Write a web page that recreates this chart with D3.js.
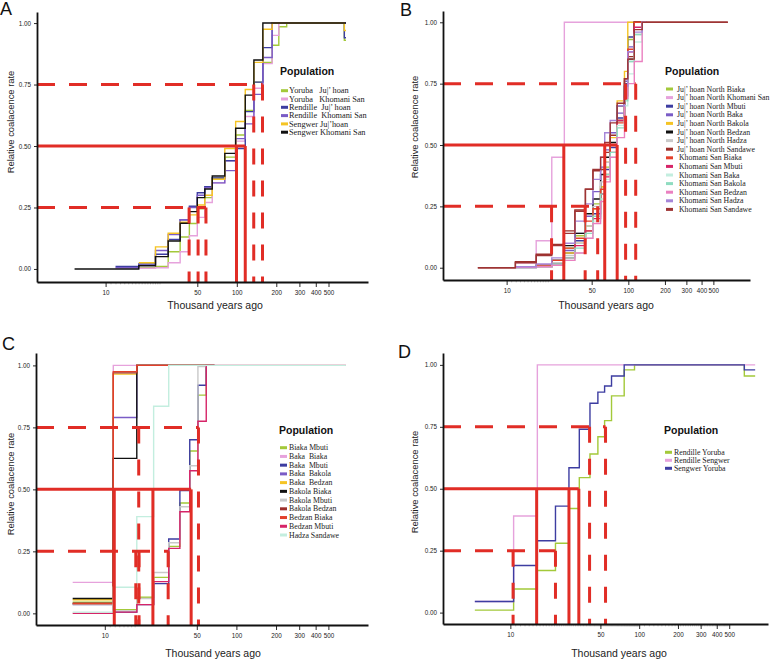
<!DOCTYPE html>
<html>
<head>
<meta charset="utf-8">
<script src="https://cdn.jsdelivr.net/npm/d3@7"></script>
<style>
body { margin: 0; background: #fff; }
text { font-family: "Liberation Sans", Arial, sans-serif; }
.leg text.entry { font-family: "Liberation Serif", "Times New Roman", serif; white-space: pre; }
</style>
</head>
<body>
<div id="viz"></div>
<script>
(function() {

    var width = 777;
    var height = 660;

    //tick values shared by all four panels
    var xTicks = [10, 50, 100, 200, 300, 400, 500];
    var yTicks = [0, 0.25, 0.5, 0.75, 1];
    var colours = ["#a3c93a", "#e6a2dc", "#3d3da1", "#7a5cc6", "#f5c424", "#111111", "#c9c9c9", "#9c2f2a",
                   "#e3402b", "#d62468", "#c3eedf", "#8fdcc0", "#ea80c0", "#a585d8", "#9e3434"];
    var red = "#e12d26";

    //Panel A
    var timesA = [5.8, 11.9, 17.9, 24, 30, 37, 43.5, 50, 57, 65, 81, 98, 116, 135, 158, 186, 209, 240, 660, 680];
    var namesA = ["Yoruba   Ju|’ hoan", "Yoruba   Khomani San", "Rendille  Ju|’ hoan", "Rendille  Khomani San",
                  "Sengwer Ju|’hoan", "Sengwer Khomani San"];
    var ratesA = [
        [null, null, 0.005, 0.01, 0.07, 0.13, 0.185, 0.245, 0.29, 0.37, 0.455, 0.545, 0.645, 0.76, 0.84, 0.91, 0.985, 1, 0.93, 0.93],
        [null, null, 0.003, 0.005, 0.025, 0.07, 0.135, 0.21, 0.27, 0.35, 0.44, 0.52, 0.62, 0.735, 0.835, 0.95, 1, 1, 1, 1],
        [null, 0.01, 0.02, 0.06, 0.12, 0.2, 0.255, 0.31, 0.335, 0.37, 0.44, 0.49, 0.64, 0.76, 0.9, 1, 1, 1, 0.94, 0.94],
        [null, 0.005, 0.015, 0.075, 0.14, 0.2, 0.25, 0.3, 0.33, 0.35, 0.4, 0.53, 0.59, 0.71, 0.86, 1, 1, 1, 1, 1],
        [null, null, 0.025, 0.09, 0.145, 0.19, 0.22, 0.26, 0.3, 0.365, 0.49, 0.6, 0.73, 0.84, 0.975, 1, 1, 1, 0.97, 0.97],
        [0, 0, 0.013, 0.05, 0.114, 0.186, 0.233, 0.29, 0.325, 0.378, 0.47, 0.572, 0.707, 0.85, 1, 1, 1, 1, 1, 1]
    ];
    var medA = [99.5, 116];
    var q25A = [43.3, 50.7, 58.2];
    var q75A = [134.6, 157];

    //Panel B
    var timesB = [5.8, 11.8, 17.5, 23.5, 29.8, 36.4, 44.4, 51.2, 59.2, 64, 71, 81, 93, 99, 112, 130, 140, 657];
    var namesB = ["Ju|’ hoan North Biaka", "Ju|’ hoan North Khomani San", "Ju|’ hoan North Mbuti", "Ju|’ hoan North Baka",
                  "Ju|’ hoan North Bakola", "Ju|’ hoan North Bedzan", "Ju|’ hoan North Hadza", "Ju|’ hoan North Sandawe",
                  " Khomani San Biaka", " Khomani San Mbuti", " Khomani San Baka", " Khomani San Bakola",
                  " Khomani San Bedzan", " Khomani San Hadza", " Khomani San Sandawe"];
    var ratesB = [
        [null, 0.002, 0.01, 0.03, 0.08, 0.13, 0.17, 0.26, 0.33, 0.41, 0.5, 0.6, 0.72, 0.93, 1, 1, 1, null],
        [null, 0.02, 0.11, 0.45, 1, 1, 1, 1, 1, 1, 1, 1, 1, 1, 1, 1, 1, null],
        [null, 0.002, 0.005, 0.02, 0.06, 0.11, 0.15, 0.22, 0.3, 0.4, 0.49, 0.61, 0.75, 0.94, 1, 1, 1, null],
        [null, 0.003, 0.01, 0.03, 0.07, 0.14, 0.21, 0.31, 0.41, 0.48, 0.55, 0.63, 0.76, 0.9, 1, 1, 1, null],
        [null, 0.002, 0.005, 0.02, 0.06, 0.1, 0.15, 0.24, 0.33, 0.43, 0.53, 0.68, 0.8, 1, 1, 1, 1, null],
        [null, 0.002, 0.005, 0.03, 0.09, 0.14, 0.22, 0.28, 0.38, 0.45, 0.51, 0.66, 0.74, 0.85, 1, 1, 1, null],
        [null, 0.002, 0.008, 0.02, 0.05, 0.1, 0.17, 0.25, 0.35, 0.43, 0.5, 0.6, 0.7, 0.84, 0.95, 1, 1, null],
        [0, 0.025, 0.055, 0.095, 0.15, 0.235, 0.32, 0.395, 0.4, 0.47, 0.54, 0.6, 0.77, 0.86, 1, 1, 1, 1],
        [null, 0.002, 0.01, 0.03, 0.08, 0.12, 0.19, 0.24, 0.32, 0.38, 0.5, 0.59, 0.7, 0.89, 1, 1, 1, null],
        [null, 0.001, 0.004, 0.015, 0.04, 0.09, 0.15, 0.2, 0.3, 0.37, 0.47, 0.6, 0.7, 0.88, 0.98, 1, 1, null],
        [null, 0, 0.003, 0.01, 0.03, 0.06, 0.12, 0.19, 0.28, 0.36, 0.45, 0.58, 0.66, 0.79, 0.92, 1, 1, null],
        [null, 0, 0.005, 0.015, 0.04, 0.08, 0.14, 0.21, 0.3, 0.38, 0.47, 0.57, 0.68, 0.84, 0.95, 1, 1, null],
        [null, 0.001, 0.004, 0.01, 0.03, 0.06, 0.12, 0.18, 0.27, 0.35, 0.45, 0.53, 0.69, 0.75, 0.84, 1, 1, null],
        [null, 0.004, 0.015, 0.04, 0.1, 0.19, 0.26, 0.36, 0.45, 0.55, 0.6, 0.66, 0.74, 0.88, 0.96, 1, 1, null],
        [0, 0.02, 0.05, 0.09, 0.14, 0.23, 0.32, 0.4, 0.45, 0.51, 0.59, 0.67, 0.77, 0.85, 0.97, 1, 1, 1]
    ];
    var medB = [29.5, 64, 81];
    var q25B = [23.4, 44.2, 56];
    var q75B = [95, 115];

    //Panel C
    var timesC = [5.7, 11.6, 17.5, 23.5, 30.6, 37.2, 44.2, 51, 59, 68, 680];
    var namesC = ["Biaka Mbuti", "Baka  Biaka", "Baka  Mbuti", "Baka  Bakola", "Baka  Bedzan", "Bakola Biaka",
                  "Bakola Mbuti", "Bakola Bedzan", "Bedzan Biaka", "Bedzan Mbuti", "Hadza Sandawe"];
    var ratesC = [
        [0.045, 0.015, 0.065, 0.145, 0.27, 0.445, 0.655, 0.88, 1, 1, null],
        [0.125, 1, 1, 1, 1, 1, 1, 1, 1, 1, null],
        [0.04, 0.005, 0.035, 0.12, 0.3, 0.495, 0.7, 0.92, 1, 1, null],
        [0.035, 0.79, 1, 1, 1, 1, 1, 1, 1, 1, null],
        [0.055, 0.965, 1, 1, 1, 1, 1, 1, 1, 1, null],
        [0.06, 0.625, 1, 1, 1, 1, 1, 1, 1, 1, null],
        [0.035, 0.01, 0.06, 0.165, 0.285, 0.43, 0.595, 0.995, 1, 1, null],
        [0.04, 0.97, 1, 1, 1, 1, 1, 1, 1, 1, null],
        [0.04, 0.975, 1, 1, 1, 1, 1, 1, 1, 1, null],
        [0, 0.005, 0.035, 0.128, 0.262, 0.41, 0.575, 0.775, 1, 1, 1],
        [0.005, 0.105, 0.39, 0.835, 1, 1, 1, 1, 1, 1, 1]
    ];
    var medC = [11.8, 23.2, 45.3];
    var q25C = [17.2, 18.2, 30.3];
    var q75C = [18.1, 51.5];

    //Panel D
    var timesD = [5.3, 10.6, 16.2, 22.4, 28.5, 34.3, 41.5, 47.8, 53.9, 61, 76.5, 92, 655, 795];
    var namesD = ["Rendille Yoruba", "Rendille Sengwer", "Sengwer Yoruba"];
    var ratesD = [
        [0.01, 0.095, 0.17, 0.28, 0.42, 0.545, 0.64, 0.71, 0.775, 0.875, 0.98, 1, 0.955, 0.955],
        [0.045, 0.39, 1, 1, 1, 1, 1, 1, 1, 1, 1, 1, 1, 1],
        [0.045, 0.19, 0.29, 0.43, 0.585, 0.74, 0.845, 0.89, 0.915, 0.955, 1, 1, 0.98, 0.98]
    ];
    var medD = [16.0, 28.5, 34];
    var q25D = [10.5, 22.4];
    var q75D = [41.2, 54.8];

    //Create the SVG
    var svg = d3.select("#viz")
        .append("svg")
        .attr("width", width)
        .attr("height", height);

    var panels = [
        {letter: "A", lx: 0, ly: 15, left: 37, right: 368, top: 12, bottom: 282, yMin: -0.053, yMax: 1.045,
         times: timesA, names: namesA, rates: ratesA, med: medA, q25: q25A, q75: q75A,
         minor: d3.range(11, 27), legX: 280, legTitleY: 75, legY: 90.7, legStep: 8.3, legFont: 8.3, textX: 289,
         yLabX: 10, yLabY: 122, xLabX: 215, xLabY: 309},
        {letter: "B", lx: 400, ly: 15.5, left: 443, right: 750, top: 11, bottom: 280, yMin: -0.05, yMax: 1.046,
         times: timesB, names: namesB, rates: ratesB, med: medB, q25: q25B, q75: q75B,
         minor: d3.range(11, 23), legX: 665, legTitleY: 75, legY: 89, legStep: 8.6, legFont: 7.8, textX: 677,
         yLabX: 414, yLabY: 127, xLabX: 606, xLabY: 309},
        {letter: "C", lx: 2, ly: 350, left: 36, right: 368, top: 353, bottom: 625, yMin: -0.047, yMax: 1.05,
         times: timesC, names: namesC, rates: ratesC, med: medC, q25: q25C, q75: q75C,
         minor: d3.range(11, 18), legX: 279, legTitleY: 434, legY: 447.7, legStep: 8.73, legFont: 7.8, textX: 289,
         yLabX: 10, yLabY: 484, xLabX: 213, xLabY: 657},
        {letter: "D", lx: 398, ly: 358, left: 443, right: 768, top: 353, bottom: 624, yMin: -0.046, yMax: 1.048,
         times: timesD, names: namesD, rates: ratesD, med: medD, q25: q25D, q75: q75D,
         minor: d3.range(11, 100).concat(d3.range(110, 500, 10)), legX: 664, legTitleY: 434, legY: 452.3, legStep: 8, legFont: 7.8, textX: 674,
         yLabX: 414, yLabY: 482, xLabX: 619, xLabY: 657}
    ];

    panels.forEach(drawPanel);

    function drawPanel(p) {
        var x = d3.scaleLog().domain([3, 1000]).range([p.left, p.right]);
        var y = d3.scaleLinear().domain([p.yMin, p.yMax]).range([p.bottom, p.top]);
        var g = svg.append("g");

        //minor ticks show up as a dotted run under the axis
        g.selectAll(".minor")
            .data(p.minor)
            .enter().append("line")
            .attr("class", "minor")
            .attr("x1", function(d) { return x(d); })
            .attr("x2", function(d) { return x(d); })
            .attr("y1", p.bottom + 0.8)
            .attr("y2", p.bottom + 2.4)
            .attr("stroke", "#888")
            .attr("stroke-width", 0.5);

        //step curves, later ones on top
        var line = d3.line()
            .defined(function(d) { return d[1] != null; })
            .x(function(d) { return x(d[0]); })
            .y(function(d) { return y(d[1]); })
            .curve(d3.curveStepAfter);

        p.rates.forEach(function(r, i) {
            var pts = p.times.map(function(t, j) { return [t, r[j]]; });
            g.append("path")
                .attr("d", line(pts))
                .attr("fill", "none")
                .attr("stroke", colours[i])
                .attr("stroke-width", 1.4);
        });

        //red median lines (solid) and quartile lines (dashed)
        var refs = [
            {v: 0.5, xs: p.med, dash: null},
            {v: 0.25, xs: p.q25, dash: "18,14"},
            {v: 0.75, xs: p.q75, dash: "18,14"}
        ];
        refs.forEach(function(r) {
            g.append("line")
                .attr("x1", p.left)
                .attr("x2", x(d3.max(r.xs)))
                .attr("y1", y(r.v))
                .attr("y2", y(r.v))
                .attr("stroke", red)
                .attr("stroke-width", 3)
                .attr("stroke-dasharray", r.dash);
            g.selectAll(null)
                .data(r.xs)
                .enter().append("line")
                .attr("x1", function(d) { return x(d); })
                .attr("x2", function(d) { return x(d); })
                .attr("y1", y(r.v))
                .attr("y2", p.bottom)
                .attr("stroke", red)
                .attr("stroke-width", 3)
                .attr("stroke-dasharray", r.dash ? "16,16" : null);
        });

        //axes
        var xAxis = d3.axisBottom(x)
            .tickValues(xTicks)
            .tickFormat(d3.format("d"))
            .tickSize(5)
            .tickSizeOuter(0)
            .tickPadding(3.5);
        var gx = g.append("g")
            .attr("transform", "translate(0," + p.bottom + ")")
            .call(xAxis);

        var yAxis = d3.axisLeft(y)
            .tickValues(yTicks)
            .tickFormat(d3.format(".2f"))
            .tickSize(3)
            .tickSizeOuter(0)
            .tickPadding(3);
        var gy = g.append("g")
            .attr("transform", "translate(" + p.left + ",0)")
            .call(yAxis);

        [gx, gy].forEach(function(a) {
            a.attr("font-size", 6.3).attr("font-family", "Liberation Sans, Arial, sans-serif");
            a.select(".domain").attr("stroke", "#111").attr("stroke-width", 1.8);
            a.selectAll(".tick line").attr("stroke", "#111").attr("stroke-width", 0.9);
            a.selectAll(".tick text").attr("fill", "#222");
        });

        //axis titles
        g.append("text")
            .attr("x", p.xLabX)
            .attr("y", p.xLabY)
            .attr("text-anchor", "middle")
            .attr("font-size", 10.5)
            .attr("fill", "#222")
            .text("Thousand years ago");
        g.append("text")
            .attr("transform", "translate(" + p.yLabX + "," + p.yLabY + ") rotate(-90)")
            .attr("text-anchor", "middle")
            .attr("dominant-baseline", "central")
            .attr("font-size", 9.4)
            .attr("fill", "#222")
            .text("Relative coalacence rate");

        //panel letter
        g.append("text")
            .attr("x", p.lx)
            .attr("y", p.ly)
            .attr("font-size", 18)
            .attr("fill", "#111")
            .text(p.letter);

        //legend
        var leg = g.append("g").attr("class", "leg");
        leg.append("text")
            .attr("x", p.legX)
            .attr("y", p.legTitleY)
            .attr("font-size", 10.5)
            .attr("font-weight", "bold")
            .attr("fill", "#111")
            .text("Population");
        leg.selectAll("rect")
            .data(p.names)
            .enter().append("rect")
            .attr("x", p.legX + 1)
            .attr("y", function(d, i) { return p.legY + i * p.legStep - 1.5; })
            .attr("width", 7)
            .attr("height", 3)
            .attr("fill", function(d, i) { return colours[i]; });
        leg.selectAll("text.entry")
            .data(p.names)
            .enter().append("text")
            .attr("class", "entry")
            .attr("x", p.textX)
            .attr("y", function(d, i) { return p.legY + i * p.legStep + 2.6; })
            .attr("font-size", p.legFont)
            .attr("fill", "#222")
            .text(function(d) { return d; });
    }

})();
</script>
</body>
</html>
